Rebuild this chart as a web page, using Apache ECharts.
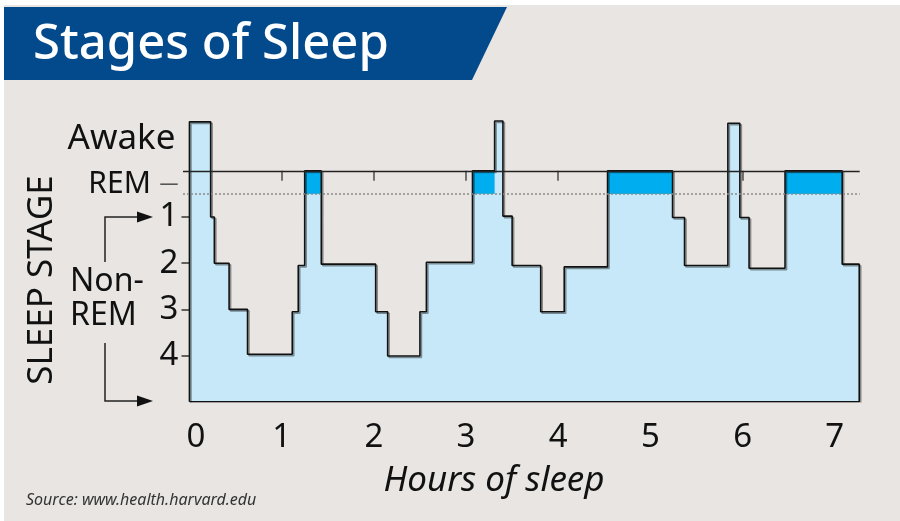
<!DOCTYPE html>
<html>
<head>
<meta charset="utf-8">
<script src="https://cdn.jsdelivr.net/npm/echarts@6/dist/echarts.min.js"></script>
<style>
  html, body { margin: 0; padding: 0; background: #fff; }
  #chart { width: 900px; height: 521px; }
</style>
</head>
<body>
<div id="chart"></div>
<script>
// hours where the stage changes, and the stage entered at that hour
// (-1 = awake, 0 = REM, 1..4 = non-REM depth)
const changeHours = [0, 0.23, 0.27, 0.43, 0.63, 1.115, 1.18, 1.25, 1.43, 2.02, 2.15, 2.50, 2.57,
    3.07, 3.31, 3.40, 3.50, 3.81, 4.065, 4.535, 5.24, 5.37, 5.84, 5.97, 6.07, 6.46, 7.08];
const stageLevels = [-1.06, 1, 2, 3, 3.97, 3.05, 2.05, 0, 2.02, 3.05, 4.01, 3.05, 1.98,
    0, -1.08, 0.98, 2.05, 3.05, 2.08, 0, 1.01, 2.05, -1.03, 1.01, 2.11, 0, 2.02];
const endHour = 7.265;

const floorLevel = 5;       // bottom of the chart
const remLevel = 0;         // REM line
const remBandDepth = 0.5;   // dotted line under REM

const hourTicks = [1, 2, 3, 4, 5, 6, 7];
const hourLabels = [0, 1, 2, 3, 4, 5, 6, 7];
const stageTicks = [1, 2, 3, 4];
const stageLabelPos = [-0.69, 0.29, 1, 2, 3, 4];
const stageLabelText = ['Awake', 'REM', '1', '2', '3', '4'];

const FONT = '"Noto Sans", sans-serif';

// build step series data
const stepData = [[0, floorLevel]];
changeHours.forEach((h, i) => stepData.push([h, stageLevels[i]]));
stepData.push([endHour, stageLevels[stageLevels.length - 1]]);
stepData.push([endHour, floorLevel]);
const outlineData = stepData.concat([[0, floorLevel]]);

// REM periods -> dark bands between REM line and dotted line
const remBands = [];
stageLevels.forEach((v, i) => {
    if (v === remLevel) {
        const end = i + 1 < changeHours.length ? changeHours[i + 1] : endHour;
        remBands.push([{xAxis: changeHours[i], yAxis: remLevel}, {xAxis: end, yAxis: remBandDepth}]);
    }
});

const chart = echarts.init(document.getElementById('chart'));

const option = {
    backgroundColor: '#e8e5e2',
    animation: false,
    grid: {left: 183, right: 40.3, top: 115.4, bottom: 119.2},
    xAxis: {
        type: 'value',
        min: -0.07,
        max: 7.27,
        splitLine: {show: false},
        axisLine: {show: false},
        axisTick: {
            show: true,
            customValues: hourTicks,
            length: 10,
            lineStyle: {color: '#555', width: 1.6}
        },
        axisLabel: {
            customValues: hourLabels,
            margin: 19,
            fontFamily: FONT,
            fontSize: 33,
            color: '#111',
            formatter: function (v) {
                return v === 0 ? '{z|0}' : String(v);
            },
            rich: {
                z: {fontFamily: FONT, fontSize: 33, color: '#111', padding: [0, 0, 0, 13]}
            }
        }
    },
    yAxis: {
        type: 'value',
        inverse: true,
        min: -1.2,
        max: floorLevel,
        offset: -6.5,
        splitLine: {show: false},
        axisLine: {show: false},
        axisTick: {
            show: true,
            customValues: stageTicks,
            length: 8,
            lineStyle: {color: '#333', width: 1.5}
        },
        axisLabel: {
            customValues: stageLabelPos,
            margin: 11,
            fontFamily: FONT,
            fontSize: 33,
            color: '#111',
            formatter: function (v) {
                const i = stageLabelPos.indexOf(v);
                const t = i >= 0 ? stageLabelText[i] : '';
                if (t === 'Awake') return '{a|Awake}';
                if (t === 'REM') return '{r|REM} {d|—}';
                return t;
            },
            rich: {
                a: {fontFamily: FONT, fontSize: 35, color: '#111', padding: [0, 3, 0, 0]},
                r: {fontFamily: FONT, fontSize: 30, color: '#111'},
                d: {fontFamily: FONT, fontSize: 19, color: '#555'}
            }
        }
    },
    series: [
        {
            type: 'line',
            name: 'fill',
            step: 'end',
            data: stepData,
            symbol: 'none',
            z: 1,
            lineStyle: {width: 0},
            areaStyle: {color: '#c6e8f8', opacity: 1, origin: 'end'},
            markArea: {
                silent: true,
                z: 2,
                label: {show: false},
                itemStyle: {color: '#00aeef'},
                data: remBands
            }
        },
        {
            type: 'line',
            name: 'outline',
            step: 'end',
            data: outlineData,
            symbol: 'none',
            z: 3,
            lineStyle: {
                color: '#111',
                width: 1.6,
                shadowColor: 'rgba(0,0,0,0.4)',
                shadowBlur: 0,
                shadowOffsetX: 1.5,
                shadowOffsetY: 1.5
            },
            markLine: {
                silent: true,
                symbol: 'none',
                label: {show: false},
                data: [
                    {yAxis: remLevel, lineStyle: {color: '#222', width: 1.3, type: 'solid'}},
                    {yAxis: remBandDepth, lineStyle: {color: '#8a8a8a', width: 1.5, type: [2, 2]}}
                ]
            }
        }
    ],
    graphic: [
        // white margins of the scan
        {type: 'rect', shape: {x: 0, y: 0, width: 900, height: 5}, style: {fill: '#fff'}},
        {type: 'rect', shape: {x: 0, y: 0, width: 4, height: 521}, style: {fill: '#fff'}},
        // title banner
        {
            type: 'polygon',
            shape: {points: [[4, 7], [507, 7], [472, 80], [4, 80]]},
            style: {fill: '#034a8d'}
        },
        {
            type: 'text', x: 33, y: 45,
            style: {
                text: 'Stages of Sleep', fill: '#fff',
                font: '500 49px "Noto Sans", sans-serif',
                textVerticalAlign: 'middle'
            }
        },
        // axis titles
        {
            type: 'text', x: 42, y: 280, rotation: Math.PI / 2,
            style: {
                text: 'SLEEP STAGE', fill: '#111',
                font: '35px "Noto Sans", sans-serif',
                textAlign: 'center', textVerticalAlign: 'middle'
            }
        },
        {
            type: 'text', x: 70, y: 282,
            style: {
                text: 'Non-', fill: '#111',
                font: '32px "Noto Sans", sans-serif',
                textVerticalAlign: 'middle'
            }
        },
        {
            type: 'text', x: 70, y: 316,
            style: {
                text: 'REM', fill: '#111',
                font: '32px "Noto Sans", sans-serif',
                textVerticalAlign: 'middle'
            }
        },
        // arrows to stage 1 and stage 4 bottom
        {
            type: 'polyline',
            shape: {points: [[105, 262], [105, 217], [140, 217]]},
            style: {stroke: '#222', lineWidth: 1.5, fill: null}
        },
        {
            type: 'polygon',
            shape: {points: [[137, 211.5], [153, 217], [137, 222.5]]},
            style: {fill: '#111'}
        },
        {
            type: 'polyline',
            shape: {points: [[105, 343], [105, 401], [140, 401]]},
            style: {stroke: '#222', lineWidth: 1.5, fill: null}
        },
        {
            type: 'polygon',
            shape: {points: [[137, 395.5], [153, 401], [137, 406.5]]},
            style: {fill: '#111'}
        },
        {
            type: 'text', x: 494, y: 481,
            style: {
                text: 'Hours of sleep', fill: '#111',
                font: 'italic 35px "Noto Sans", sans-serif',
                textAlign: 'center', textVerticalAlign: 'middle'
            }
        },
        {
            type: 'text', x: 26, y: 500,
            style: {
                text: 'Source: www.health.harvard.edu', fill: '#333',
                font: 'italic 16px "Noto Sans", sans-serif',
                textVerticalAlign: 'middle'
            }
        }
    ]
};

chart.setOption(option);

window.addEventListener('resize', () => chart.resize());
</script>
</body>
</html>
